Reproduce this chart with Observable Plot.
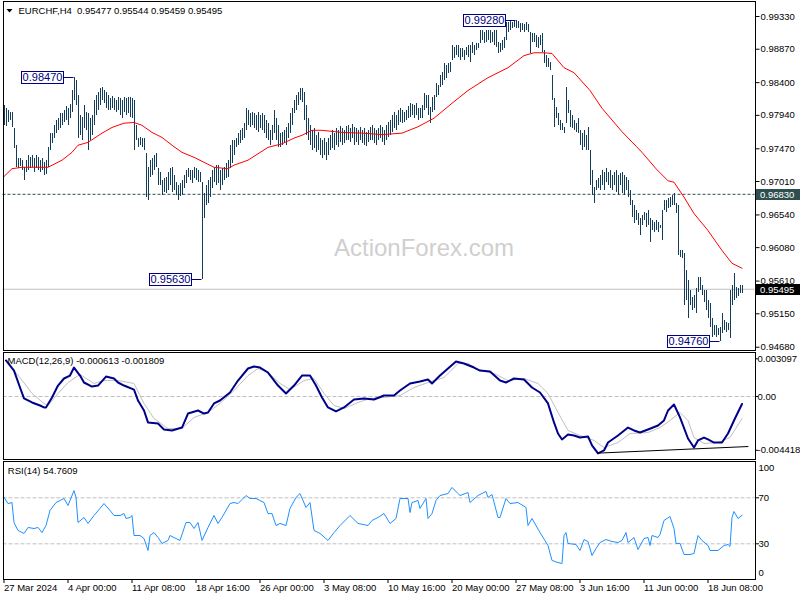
<!DOCTYPE html>
<html>
<head>
<meta charset="utf-8">
<script src="https://cdn.jsdelivr.net/npm/d3@7"></script>
<script src="https://cdn.jsdelivr.net/npm/@observablehq/plot@0.6"></script>
<style>
  html, body { margin: 0; padding: 0; background: #fff; }
  #chart { position: relative; width: 800px; height: 600px; overflow: hidden; background: #fff; }
  #chart svg { position: absolute; left: 0; top: 0; }
</style>
</head>
<body>
<div id="chart"></div>
<script>
// ---------------- DATA ----------------
const high = [
.9808,.9804,.9801,.9798,.9798,.9776,.9752,.9733,.9733,.9731,
.9721,.9731,.9738,.9735,.9738,.9733,.9738,.9735,.9731,.9733,
.9728,.9731,.9749,.9769,.9769,.9780,.9787,.9790,.9797,.9797,
.9801,.9807,.9804,.9809,.9829,.9847,.9843,.9822,.9794,.9791,
.9808,.9798,.9797,.9790,.9794,.9815,.9822,.9826,.9832,.9833,
.9829,.9826,.9822,.9818,.9821,.9818,.9815,.9819,.9818,.9815,
.9819,.9818,.9819,.9819,.9818,.9815,.9780,.9762,.9763,.9762,
.9762,.9740,.9721,.9731,.9733,.9738,.9740,.9719,.9714,.9702,
.9705,.9707,.9714,.9719,.9721,.9709,.9700,.9695,.9698,.9702,
.9709,.9717,.9719,.9717,.9717,.9721,.9719,.9717,.9714,.9700,
.9684,.9695,.9702,.9707,.9717,.9721,.9724,.9724,.9717,.9719,
.9721,.9726,.9731,.9752,.9759,.9759,.9762,.9769,.9773,.9776,
.9783,.9804,.9801,.9797,.9798,.9797,.9794,.9798,.9794,.9797,
.9794,.9787,.9783,.9773,.9780,.9801,.9790,.9780,.9769,.9770,
.9773,.9777,.9783,.9797,.9804,.9815,.9822,.9826,.9832,.9832,
.9826,.9808,.9790,.9780,.9773,.9776,.9766,.9770,.9762,.9759,
.9762,.9756,.9762,.9766,.9773,.9769,.9776,.9773,.9778,.9776,
.9773,.9778,.9780,.9776,.9781,.9777,.9776,.9773,.9777,.9773,
.9776,.9770,.9773,.9777,.9780,.9776,.9773,.9776,.9780,.9777,
.9773,.9780,.9784,.9787,.9794,.9798,.9794,.9801,.9804,.9801,
.9798,.9801,.9807,.9811,.9809,.9808,.9811,.9804,.9804,.9808,
.9825,.9822,.9822,.9805,.9819,.9822,.9839,.9836,.9850,.9854,
.9867,.9864,.9867,.9868,.9892,.9889,.9892,.9892,.9888,.9888,
.9885,.9889,.9892,.9892,.9896,.9892,.9895,.9895,.9913,.9913,
.9911,.9913,.9913,.9913,.9911,.9913,.9913,.9896,.9895,.9899,
.9904,.9925,.9925,.9926,.9925,.9927,.9928,.9926,.9923,.9923,
.9922,.9925,.9922,.9911,.9909,.9909,.9906,.9904,.9906,.9909,
.9885,.9878,.9874,.9868,.9850,.9818,.9805,.9797,.9787,.9783,
.9777,.9833,.9815,.9801,.9794,.9787,.9783,.9790,.9773,.9769,
.9773,.9766,.9777,.9745,.9717,.9693,.9702,.9705,.9709,.9717,
.9714,.9719,.9714,.9717,.9709,.9714,.9717,.9709,.9712,.9714,
.9709,.9707,.9702,.9688,.9674,.9667,.9660,.9656,.9649,.9653,
.9657,.9656,.9660,.9649,.9646,.9643,.9646,.9643,.9639,.9660,
.9674,.9674,.9677,.9679,.9681,.9684,.9670,.9667,.9604,.9604,
.9600,.9576,.9562,.9548,.9538,.9541,.9551,.9566,.9566,.9555,
.9548,.9548,.9534,.9530,.9508,.9499,.9499,.9494,.9496,.9515,
.9506,.9503,.9501,.9548,.9555,.9572,.9552,.9551,.9555,.9555
];
const low = [
.9780,.9778,.9784,.9787,.9777,.9747,.9721,.9719,.9722,.9717,
.9702,.9714,.9717,.9719,.9721,.9714,.9719,.9717,.9714,.9717,
.9709,.9711,.9721,.9745,.9754,.9762,.9769,.9773,.9776,.9780,
.9784,.9787,.9780,.9790,.9798,.9815,.9808,.9762,.9766,.9759,
.9776,.9773,.9745,.9759,.9766,.9780,.9794,.9801,.9808,.9815,
.9811,.9804,.9801,.9801,.9804,.9801,.9798,.9801,.9794,.9790,
.9798,.9794,.9797,.9791,.9790,.9745,.9759,.9749,.9752,.9749,
.9745,.9679,.9674,.9707,.9709,.9717,.9721,.9695,.9695,.9681,
.9686,.9684,.9688,.9695,.9686,.9688,.9681,.9674,.9680,.9681,
.9691,.9698,.9707,.9702,.9698,.9705,.9702,.9700,.9700,.9563,
.9649,.9667,.9670,.9679,.9691,.9700,.9695,.9698,.9688,.9695,
.9702,.9705,.9707,.9719,.9726,.9738,.9749,.9752,.9754,.9759,
.9762,.9773,.9780,.9777,.9780,.9776,.9773,.9770,.9776,.9773,
.9769,.9762,.9759,.9752,.9759,.9769,.9759,.9749,.9749,.9752,
.9754,.9752,.9762,.9769,.9780,.9797,.9801,.9808,.9815,.9812,
.9787,.9766,.9759,.9752,.9745,.9747,.9742,.9745,.9738,.9733,
.9738,.9731,.9738,.9745,.9747,.9745,.9752,.9749,.9756,.9752,
.9754,.9759,.9759,.9756,.9762,.9752,.9756,.9752,.9759,.9754,
.9752,.9750,.9756,.9759,.9759,.9754,.9752,.9759,.9762,.9756,
.9752,.9759,.9763,.9766,.9770,.9776,.9773,.9780,.9784,.9783,
.9784,.9787,.9790,.9791,.9794,.9790,.9794,.9787,.9790,.9790,
.9801,.9804,.9794,.9783,.9798,.9801,.9819,.9822,.9833,.9836,
.9843,.9846,.9853,.9854,.9871,.9874,.9878,.9875,.9871,.9875,
.9871,.9878,.9875,.9868,.9881,.9878,.9885,.9888,.9895,.9899,
.9895,.9896,.9899,.9895,.9896,.9892,.9889,.9881,.9882,.9885,
.9888,.9899,.9911,.9913,.9916,.9918,.9916,.9916,.9911,.9913,
.9911,.9913,.9911,.9881,.9896,.9896,.9889,.9888,.9892,.9882,
.9867,.9861,.9861,.9857,.9815,.9777,.9790,.9780,.9773,.9773,
.9769,.9783,.9797,.9777,.9776,.9773,.9770,.9769,.9752,.9745,
.9749,.9745,.9745,.9695,.9681,.9670,.9688,.9691,.9688,.9695,
.9688,.9700,.9695,.9691,.9688,.9695,.9686,.9681,.9695,.9684,
.9681,.9688,.9679,.9667,.9650,.9642,.9646,.9639,.9625,.9639,
.9646,.9636,.9639,.9615,.9632,.9629,.9632,.9629,.9635,.9618,
.9660,.9657,.9663,.9665,.9667,.9667,.9656,.9597,.9594,.9593,
.9527,.9534,.9508,.9527,.9520,.9523,.9515,.9545,.9548,.9541,
.9531,.9520,.9508,.9496,.9482,.9485,.9482,.9485,.9476,.9487,
.9492,.9489,.9492,.9480,.9527,.9534,.9537,.9539,.9544,.9544
];
// red moving average (bar index, value)
const maIdx = [0,4,9,22,29,34,37,42,49,54,60,65,69,74,79,84,89,95,100,105,112,115,122,127,132,139,145,149,154,159,169,179,189,199,207,215,224,232,242,252,260,265,270,274,280,285,293,299,309,319,326,332,335,340,345,352,359,364,369];
const maVal = [.9708,.9719,.9721,.9721,.9731,.9742,.9752,.9756,.9769,.9777,.9783,.9784,.9780,.9770,.9763,.9752,.9742,.9735,.9728,.9721,.9719,.9724,.9731,.9740,.9749,.9754,.9762,.9766,.9773,.9773,.9770,.9769,.9767,.9769,.9778,.9790,.9811,.9829,.9847,.9861,.9878,.9882,.9882,.9881,.9861,.9854,.9829,.9804,.9771,.9742,.9719,.9702,.9700,.9679,.9656,.9632,.9604,.9586,.9579];
// MACD main line
const macdIdx = [1,5,8,10,14,18,20,21,24,27,30,33,35,38,40,44,47,51,55,57,60,65,67,70,72,77,80,84,89,92,97,100,102,105,108,113,117,122,125,128,132,137,141,145,149,153,156,159,162,166,170,175,180,185,190,195,198,203,208,212,214,218,222,226,230,235,238,243,248,251,255,260,264,268,272,275,277,279,282,285,288,292,294,297,300,302,307,312,315,318,322,327,330,332,335,338,342,345,347,350,352,355,359,362,365,369];
const macdVal = [.00296,.00213,.00074,-.00016,-.00049,-.00074,-.00090,-.00090,-.00008,.00090,.00148,.00172,.00238,.00172,.00115,.00082,.00090,.00164,.00148,.00115,.00090,.00057,-.00033,-.00115,-.00213,-.00222,-.00271,-.00279,-.00255,-.00140,-.00115,-.00140,-.00131,-.00057,-.00033,.00033,.00131,.00230,.00246,.00238,.00197,.00090,.00025,.00090,.00172,.00172,.00090,-.00008,-.00090,-.00123,-.00090,-.00025,-.00016,-.00025,.00008,.00008,.00049,.00107,.00123,.00140,.00107,.00172,.00230,.00287,.00271,.00238,.00213,.00205,.00131,.00115,.00148,.00140,.00074,.00033,-.00057,-.00213,-.00304,-.00353,-.00312,-.00320,-.00337,-.00328,-.00402,-.00468,-.00443,-.00378,-.00320,-.00255,-.00279,-.00296,-.00271,-.00238,-.00197,-.00115,-.00066,-.00172,-.00345,-.00419,-.00361,-.00337,-.00353,-.00378,-.00378,-.00304,-.00197,-.000613];
// MACD signal line
const sigIdx = [2,8,14,20,22,27,32,38,45,50,57,65,70,75,82,89,95,102,108,115,122,127,132,138,143,150,155,160,165,170,177,183,190,198,205,212,220,227,232,238,245,252,260,267,272,277,282,288,295,300,307,313,322,328,333,338,342,345,350,357,363,369];
const sigVal = [.00271,.00156,.00025,-.00057,-.00074,.00025,.00115,.00181,.00107,.00131,.00131,.00107,-.00057,-.00181,-.00263,-.00263,-.00172,-.00131,-.00057,.00049,.00172,.00230,.00197,.00107,.00057,.00131,.00148,.00025,-.00074,-.00099,-.00049,-.00016,-.00008,.00008,.00074,.00115,.00156,.00271,.00271,.00213,.00189,.00131,.00148,.00107,.00025,-.00131,-.00279,-.00320,-.00361,-.00419,-.00378,-.00304,-.00296,-.00255,-.00197,-.00131,-.00197,-.00337,-.00386,-.00378,-.00337,-.001809];
// hand-drawn trend line on MACD
const trendIdx = [297, 372];
const trendVal = [-.00465, -.00411];
// RSI(14)
const rsiIdx = [0,2,4,5,7,10,12,15,17,19,21,23,26,30,32,35,36,37,40,42,45,48,50,53,55,58,60,61,63,64,65,68,70,72,73,75,77,79,82,83,86,88,91,93,95,97,99,102,105,107,109,113,115,117,121,123,126,130,132,134,136,138,141,143,146,148,151,153,155,158,162,165,168,173,177,182,184,187,190,193,196,198,202,203,204,207,208,211,212,214,216,218,222,224,227,228,232,233,237,241,242,244,247,248,251,253,257,261,262,264,268,272,274,277,279,280,281,282,286,288,290,292,294,296,298,301,304,307,309,311,312,315,317,320,322,323,324,327,328,330,333,335,336,338,340,343,345,347,349,352,353,357,360,362,363,364,365,367,369];
const rsiVal = [70.5,65.0,65.9,48.5,41.6,39.0,44.2,43.3,44.2,39.8,45.9,59.0,65.9,69.4,63.3,76.3,70.3,48.5,52.9,47.7,54.6,60.7,65.0,59.0,54.6,54.6,56.3,52.0,52.9,54.6,37.2,37.2,34.6,24.2,37.2,39.8,35.5,30.3,32.9,37.2,34.6,32.9,48.5,48.5,43.3,48.5,32.9,44.2,54.6,47.7,52.9,65.0,65.9,65.0,72.0,69.4,69.4,65.9,56.3,56.3,45.9,47.7,45.9,60.7,70.3,73.7,61.6,65.9,41.6,39.0,32.9,39.8,45.9,54.6,47.7,45.9,50.3,52.9,56.3,47.7,52.0,69.4,69.4,57.2,65.9,67.7,60.7,69.4,52.0,56.3,67.7,72.0,73.7,79.0,73.7,72.0,74.6,65.9,72.0,75.5,70.3,72.9,52.9,52.9,69.4,65.0,65.9,61.6,45.9,52.0,39.8,28.5,15.5,13.7,12.9,37.2,39.8,30.3,29.4,24.2,33.7,32.0,19.8,25.9,31.1,33.7,32.0,31.1,32.9,39.8,31.1,35.5,25.0,34.6,35.5,28.5,37.2,35.5,38.1,50.3,53.7,43.3,30.3,30.3,20.7,20.7,21.6,37.2,32.9,28.5,24.2,24.2,28.5,29.4,27.7,52.9,58.1,52.0,54.76];
// annotations (high/low labels)
const noteIdx = [35, 99, 256, 358];
const noteVal = [0.98470, 0.95630, 0.99280, 0.94760];
// levels
const levelPrice = 0.96830;
const lastPrice = 0.95495;
// axis ticks
const priceTicks = [0.99330,0.98870,0.98400,0.97940,0.97470,0.97010,0.96540,0.96080,0.95610,0.95150,0.94680];
const macdTicks = [0.003097, 0, -0.004418];
const macdTickLabels = ["0.003097", "0.00", "-0.004418"];
const rsiLevels = [70, 30];
const dateIdx = [0,32,64,96,128,160,192,224,256,288,320,352];
const dateLabels = ["27 Mar 2024","4 Apr 00:00","11 Apr 08:00","18 Apr 16:00","26 Apr 00:00","3 May 08:00","10 May 16:00","20 May 00:00","27 May 08:00","3 Jun 16:00","11 Jun 00:00","18 Jun 08:00"];
const headerText = "EURCHF,H4\u00a0 0.95477 0.95544 0.95459 0.95495";
const macdTitle = "MACD(12,26,9) -0.000613 -0.001809";
const rsiTitle = "RSI(14) 54.7609";
const watermark = "ActionForex.com";

// ---------------- CHART ----------------
const FONT = "'Liberation Sans', Arial, sans-serif";
const BAR = "#123e5c", NAVY = "#000080";
const bars = high.map((h, i) => ({i, h, l: low[i]}));
const ma = maIdx.map((i, k) => ({i, v: maVal[k]}));
const macd = macdIdx.map((i, k) => ({i, v: macdVal[k]}));
const sig = sigIdx.map((i, k) => ({i, v: sigVal[k]}));
const trend = trendIdx.map((i, k) => ({i, v: trendVal[k]}));
const rsi = rsiIdx.map((i, k) => ({i, v: rsiVal[k]}));
const notes = noteIdx.map((i, k) => ({i, v: noteVal[k]}));

const base = {
  width: 800, height: 600, marginLeft: 2.5, marginRight: 45.5,
  style: `background: transparent; font-family: ${FONT}; font-size: 9.5px; color: #000; overflow: visible;`
};

function noteMark(index, {x, y}) {
  const g = d3.create("svg:g").attr("font-family", FONT).attr("font-size", 11);
  for (const n of notes) {
    const X = x(n.i), Y = Math.round(y(n.v)) + 0.5;
    const left = X - 52, w = 42;
    g.append("line").attr("x1", left + w).attr("x2", X).attr("y1", Y).attr("y2", Y).attr("stroke", NAVY);
    g.append("rect").attr("x", left).attr("y", Y - 6).attr("width", w).attr("height", 12)
      .attr("fill", "#fff").attr("stroke", NAVY);
    g.append("text").attr("x", left + w / 2).attr("y", Y).attr("dy", "0.36em")
      .attr("text-anchor", "middle").attr("fill", NAVY).text(n.v.toFixed(5));
  }
  return g.node();
}
function priceBoxes(index, {y}) {
  const g = d3.create("svg:g").attr("font-family", FONT).attr("font-size", 9.5).attr("text-anchor", "start");
  [[levelPrice, "#2f4f4f"], [lastPrice, "#000"]].forEach(([v, fill]) => {
    const Y = Math.round(y(v));
    g.append("rect").attr("x", 756).attr("y", Y - 5).attr("width", 44).attr("height", 11).attr("fill", fill);
    g.append("text").attr("x", 760).attr("y", Y + 0.5).attr("dy", "0.35em").attr("text-anchor", "start")
      .attr("fill", "#fff").text(v.toFixed(5));
  });
  return g.node();
}
function headerIcon() {
  return d3.create("svg:path").attr("d", "M6.5,9L12.5,9L9.5,12.5Z").attr("fill", "#000").node();
}

const pricePlot = Plot.plot({
  ...base, marginTop: 0.5, marginBottom: 250.5,
  x: {domain: [-0.5, 375.5], axis: null},
  y: {domain: [0.94641, 0.99548], label: null},
  marks: [
    Plot.text([watermark], {frameAnchor: "middle", dx: 45, dy: 73, text: d => d, fontSize: 24, fill: "#cfcfcf"}),
    Plot.ruleY([levelPrice], {stroke: "#2f4f4f", strokeDasharray: "3,2"}),
    Plot.ruleY([lastPrice], {stroke: "#c0c0c0"}),
    Plot.ruleX(bars, {x: "i", y1: "l", y2: "h", stroke: BAR, strokeWidth: 1, shapeRendering: "crispEdges"}),
    Plot.line(ma, {x: "i", y: "v", stroke: "#ff0000", strokeWidth: 1}),
    Plot.axisY(priceTicks, {anchor: "right", tickSize: 4, tickPadding: 1.5, tickFormat: d3.format(".5f"), label: null}),
    Plot.frame({stroke: "#000", shapeRendering: "crispEdges"}),
    noteMark,
    priceBoxes,
    Plot.text([headerText], {frameAnchor: "top-left", dx: 15.5, dy: 10.2, text: d => d, textAnchor: "start", lineAnchor: "middle", fill: "#000"}),
    headerIcon
  ]
});

const macdPlot = Plot.plot({
  ...base, marginTop: 351.5, marginBottom: 141.5,
  x: {domain: [-0.5, 375.5], axis: null},
  y: {domain: [-0.005134, 0.003656], label: null},
  marks: [
    Plot.ruleY([0], {stroke: "#c0c0c0", strokeDasharray: "4,2"}),
    Plot.line(sig, {x: "i", y: "v", stroke: "#c0c0c0", strokeWidth: 1}),
    Plot.line(macd, {x: "i", y: "v", stroke: "#00008b", strokeWidth: 2}),
    Plot.line(trend, {x: "i", y: "v", stroke: "#000", strokeWidth: 1}),
    Plot.axisY(macdTicks, {anchor: "right", tickSize: 2.5, tickPadding: 0, tickFormat: d => macdTickLabels[macdTicks.indexOf(d)], label: null}),
    Plot.frame({stroke: "#000", shapeRendering: "crispEdges"}),
    Plot.text([macdTitle], {frameAnchor: "top-left", dx: 4.5, dy: 9.2, text: d => d, textAnchor: "start", lineAnchor: "middle", fill: "#000"})
  ]
});

const rsiPlot = Plot.plot({
  ...base, marginTop: 460.5, marginBottom: 21,
  x: {domain: [-0.5, 375.5]},
  y: {domain: [-1.04, 102.0], label: null},
  marks: [
    Plot.ruleY(rsiLevels, {stroke: "#c0c0c0", strokeDasharray: "4,2"}),
    Plot.line(rsi, {x: "i", y: "v", stroke: "#1e90ff", strokeWidth: 1}),
    Plot.axisY(rsiLevels, {anchor: "right", tickSize: 3.5, tickPadding: 0, tickFormat: d => String(d), label: null}),
    Plot.text([100], {y: d => d, frameAnchor: "right", textAnchor: "start", dx: 3.5, dy: 4.7, text: d => String(d), fill: "#000"}),
    Plot.text([0], {y: d => d, frameAnchor: "right", textAnchor: "start", dx: 3.5, dy: -5.8, text: d => String(d), fill: "#000"}),
    Plot.axisX(dateIdx, {anchor: "bottom", tickSize: 4, tickPadding: 0.5, textAnchor: "start", tickFormat: d => dateLabels[dateIdx.indexOf(d)], label: null}),
    Plot.frame({stroke: "#000", shapeRendering: "crispEdges"}),
    Plot.text([rsiTitle], {frameAnchor: "top-left", dx: 4.8, dy: 9.5, text: d => d, textAnchor: "start", lineAnchor: "middle", fill: "#000"})
  ]
});

const root = document.getElementById("chart");
root.append(rsiPlot, macdPlot, pricePlot);
</script>
</body>
</html>
